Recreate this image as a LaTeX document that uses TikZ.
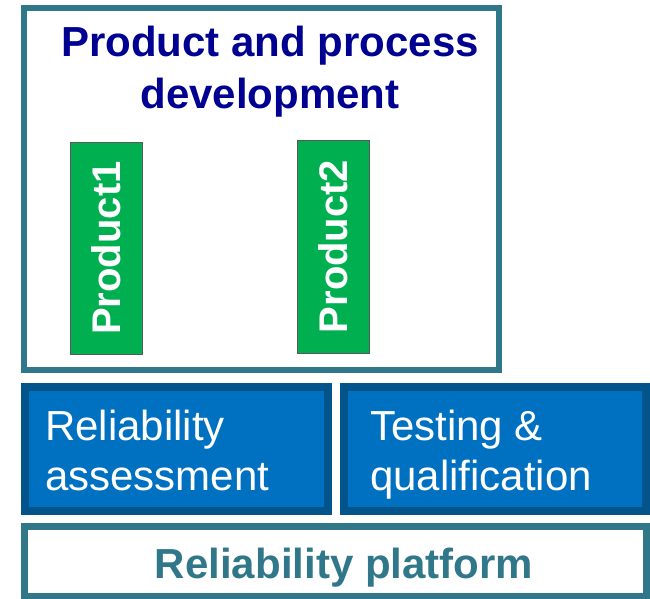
\documentclass[tikz,border=0pt]{standalone}
\usepackage{fontspec}
\setmainfont{Liberation Sans}
\definecolor{frameteal}{RGB}{49,119,138}
\definecolor{titlenavy}{RGB}{0,0,145}
\definecolor{prodgreen}{RGB}{0,176,80}
\definecolor{blockfill}{RGB}{0,112,192}
\definecolor{blockedge}{RGB}{4,84,140}
\tikzset{
  outline/.style={draw=frameteal, fill=white, inner sep=0pt},
  prodbox/.style={draw=black!65, line width=0.8pt, fill=prodgreen, rotate=90,
    inner sep=0pt, text=white, font=\fontsize{40}{48}\selectfont\bfseries},
  block/.style={draw=blockedge, fill=blockfill, line width=8pt, inner sep=0pt},
  blocktext/.style={text=white, align=left, inner sep=0pt,
    font=\fontsize{42}{50}\selectfont},
}
\begin{document}
\begin{tikzpicture}[x=1pt,y=-1pt]
\useasboundingbox (0,0) rectangle (650,599);
\fill[white] (0,0) rectangle (650,599);

% development frame with its two products
\node[outline, line width=6pt, minimum width=475pt, minimum height=362pt]
  (dev) at (261.5,189) {};
\node[anchor=base, align=center, inner sep=0pt, text=titlenavy,
  font=\fontsize{42}{52}\selectfont\bfseries]
  (devtitle) at (270,109) {Product and process\\development};
\node[prodbox, minimum width=212pt, minimum height=72pt] (p1) at (106,248) {Product1};
\node[prodbox, minimum width=213pt, minimum height=72pt] (p2) at (333,246.5) {Product2};

% supporting blocks
\node[block, minimum width=303pt, minimum height=124pt] (assess) at (176.5,449) {};
\node[block, minimum width=302pt, minimum height=124pt] (testq) at (495,449) {};
\node[blocktext, anchor=base west] (assesstxt) at (45,490) {Reliability\\assessment};
\node[blocktext, anchor=base west] (testqtxt) at (370,490) {Testing \&\\qualification};

% platform
\node[outline, line width=7pt, minimum width=622pt, minimum height=70pt]
  (plat) at (335.5,561.5) {};
\node[anchor=base, inner sep=0pt, text=frameteal,
  font=\fontsize{42}{50}\selectfont\bfseries] (plattxt) at (344,578) {Reliability platform};
\end{tikzpicture}
\end{document}
